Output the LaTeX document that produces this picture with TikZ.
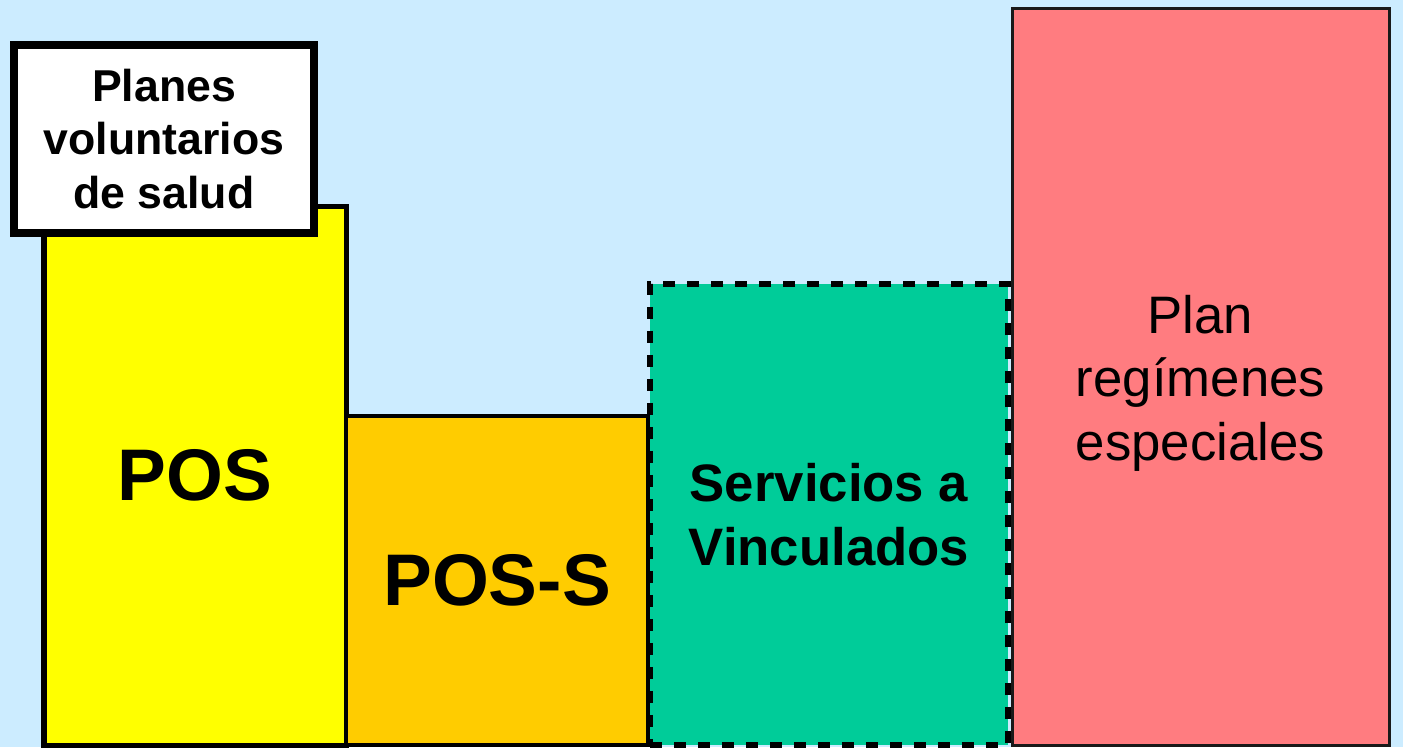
\documentclass[tikz,border=0pt]{standalone}
\usepackage{fontspec}
\setmainfont{Liberation Sans}
\definecolor{skyback}{HTML}{CCECFF}
\definecolor{posyellow}{HTML}{FFFF00}
\definecolor{possorange}{HTML}{FFCC00}
\definecolor{vincgreen}{HTML}{00CC99}
\definecolor{planred}{HTML}{FF7C80}
\begin{document}
\begin{tikzpicture}[
    bar/.style={draw=black, line width=0.05cm, inner sep=0pt, align=center},
    bigtxt/.style={font=\fontsize{20.8}{25}\selectfont\bfseries},
    midtxt/.style={font=\fontsize{15}{18.1}\selectfont, align=center}
  ]
    \useasboundingbox (0,0) rectangle (14.03,7.47);
    \fill[skyback] (0,0) rectangle (14.03,7.47);

    \node[bar, fill=posyellow, minimum width=3.02cm, minimum height=5.39cm, bigtxt] (pos) at (1.95,2.715) {POS};
    \node[bar, fill=possorange, line width=0.04cm, minimum width=3.02cm, minimum height=3.29cm, bigtxt] (poss) at (4.97,1.665) {\raisebox{-0.1cm}{POS-S}};
    \node[bar, fill=vincgreen, line width=0.06cm, dash pattern=on 0.12cm off 0.12cm, minimum width=3.58cm, minimum height=4.61cm, midtxt] (vinc) at (8.29,2.325) {\bfseries Servicios a\\\bfseries Vinculados};
    \node[bar, fill=planred, draw=black!90, line width=0.03cm, minimum width=3.77cm, minimum height=7.36cm] (plan) at (12.005,3.70) {};
    \node[midtxt] (plantxt) at ([yshift=-0.06cm]plan.center) {Plan\\reg\'imenes\\especiales};

    % voluntary plans label over the POS bar
    \node[bar, fill=white, line width=0.08cm, minimum width=3.00cm, minimum height=1.88cm,
          font=\fontsize{12.7}{15.2}\selectfont\bfseries] (planes) at (1.64,6.08) {Planes\\voluntarios\\de salud};
\end{tikzpicture}
\end{document}
